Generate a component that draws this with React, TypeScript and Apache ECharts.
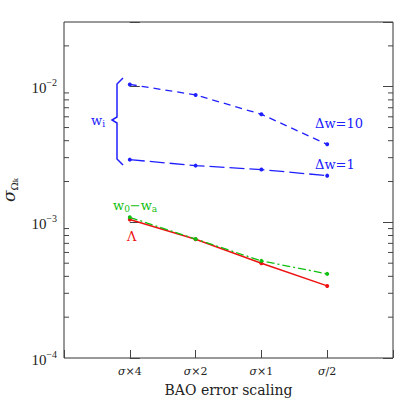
import React, { useEffect, useRef } from 'react';
import * as echarts from 'echarts';

const categories = ['σ×4', 'σ×2', 'σ×1', 'σ/2'];
const dw10 = [0.0104, 0.0087, 0.00626, 0.00376];
const dw1 = [0.0029, 0.00262, 0.00245, 0.00221];
const lambdaVals = [0.00105, 0.00075, 0.0005, 0.00034];
const w0waVals = [0.00109, 0.000753, 0.00052, 0.000417];
const yDecades = [1e-4, 1e-3, 1e-2];
const minorMantissas = [2, 3, 4, 5, 6, 7, 8, 9];

const BLUE = '#2020ff';
const RED = '#ee1111';
const GREEN = '#10c010';
const SERIF = 'DejaVu Serif';
const AXIS = '#444';

const Y_MIN = 1e-4;
const Y_MAX = 0.03;

export default function App() {
  const ref = useRef<HTMLDivElement>(null);
  useEffect(() => {
    if (!ref.current) return;
    const chart = echarts.init(ref.current, undefined, { renderer: 'svg' });
    const minorTicks: number[][] = [];
    yDecades.forEach((d) =>
      minorMantissas.forEach((m) => {
        const v = d * m;
        if (v < Y_MAX) minorTicks.push([-1, v]);
      })
    );
    const toPts = (arr: number[]) => arr.map((v, i) => [i, v]);
    const yLabelFmt = (v: number) => {
      const l = Math.log10(v);
      const e = Math.round(l);
      if (Math.abs(l - e) > 1e-6) return '';
      return `{b|10}{e|−${-e}}`;
    };
    const option: any = {
      animation: false,
      grid: {
        left: 64, right: 22, top: 22, bottom: 57,
        containLabel: false,
        outerBoundsMode: 'none',
        show: true, borderColor: '#333', borderWidth: 1, backgroundColor: 'transparent',
      },
      xAxis: {
        type: 'value',
        min: -1,
        max: 4,
        interval: 1,
        axisLine: { show: false },
        splitLine: { show: false },
        axisTick: { inside: true, length: 8, lineStyle: { color: AXIS } },
        axisLabel: {
          margin: 8,
          fontSize: 11,
          fontFamily: SERIF,
          color: '#222',
          formatter: (v: number) => {
            const i = Math.round(v);
            if (Math.abs(v - i) > 1e-6 || i < 0 || i >= categories.length) return '';
            return `{s|σ}${categories[i].slice(1)}`;
          },
          rich: { s: { fontStyle: 'italic', fontSize: 11, fontFamily: SERIF, color: '#222' } },
        },
        name: 'BAO error scaling',
        nameLocation: 'middle',
        nameGap: 25,
        nameTextStyle: { fontSize: 14, fontFamily: SERIF, color: '#222' },
      },
      yAxis: [
        {
          type: 'log',
          logBase: 10,
          min: Y_MIN,
          max: Y_MAX,
          axisLine: { show: false },
          splitLine: { show: false },
          axisTick: { inside: true, length: 10, lineStyle: { color: AXIS } },
          axisLabel: {
            margin: 7,
            formatter: yLabelFmt,
            rich: {
              b: { fontSize: 15, fontFamily: 'Liberation Serif', color: '#222', lineHeight: 18, verticalAlign: 'bottom' },
              e: { fontSize: 10, fontFamily: 'Liberation Serif', color: '#222', lineHeight: 10, verticalAlign: 'top' },
            },
          },
          name: '{s|σ}{o|Ω}{k|k}',
          nameLocation: 'middle',
          nameRotate: 90,
          nameGap: 45,
          nameTextStyle: {
            rich: {
              s: { fontSize: 17, fontFamily: SERIF, color: '#222', lineHeight: 20, fontStyle: 'italic' },
              o: { fontSize: 10, fontFamily: SERIF, color: '#222', lineHeight: 4, verticalAlign: 'bottom' },
              k: { fontSize: 7, fontFamily: SERIF, color: '#222', lineHeight: 1, verticalAlign: 'bottom' },
            },
          },
        },
        {
          type: 'log',
          logBase: 10,
          min: Y_MIN,
          max: Y_MAX,
          position: 'right',
          axisLine: { show: false },
          splitLine: { show: false },
          axisTick: { inside: true, length: 10, lineStyle: { color: AXIS } },
          axisLabel: { show: false },
        },
      ],
      series: [
        {
          type: 'custom',
          silent: true,
          yAxisIndex: 0,
          data: minorTicks,
          renderItem: (params: any, api: any) => {
            const v = api.value(1);
            const l = api.coord([-1, v]);
            const r = api.coord([4, v]);
            return {
              type: 'group',
              children: [
                { type: 'line', shape: { x1: l[0], y1: l[1], x2: l[0] + 5, y2: l[1] }, style: { stroke: AXIS, lineWidth: 1 } },
                { type: 'line', shape: { x1: r[0] - 5, y1: r[1], x2: r[0], y2: r[1] }, style: { stroke: AXIS, lineWidth: 1 } },
              ],
            };
          },
        },
        {
          name: 'Δw=10',
          type: 'line',
          data: toPts(dw10),
          symbol: 'circle',
          symbolSize: 4,
          itemStyle: { color: BLUE },
          lineStyle: { color: BLUE, width: 1.3, type: [7, 5] },
        },
        {
          name: 'Δw=1',
          type: 'line',
          data: toPts(dw1),
          symbol: 'circle',
          symbolSize: 4,
          itemStyle: { color: BLUE },
          lineStyle: { color: BLUE, width: 1.3, type: [15, 5] },
        },
        {
          name: 'Λ',
          type: 'line',
          data: toPts(lambdaVals),
          symbol: 'circle',
          symbolSize: 4,
          itemStyle: { color: RED },
          lineStyle: { color: RED, width: 1.5, type: 'solid' },
        },
        {
          name: 'w0-wa',
          type: 'line',
          data: toPts(w0waVals),
          symbol: 'circle',
          symbolSize: 4,
          itemStyle: { color: GREEN },
          lineStyle: { color: GREEN, width: 1.3, type: [8, 3, 2, 3] },
        },
      ],
      graphic: [
        {
          type: 'polyline',
          shape: { points: [[123, 78], [117, 84], [117, 117], [112, 120], [117, 123], [117, 159], [123, 165]] },
          style: { stroke: BLUE, lineWidth: 1.5, fill: 'none' },
        },
        {
          type: 'text',
          x: 91,
          y: 120,
          style: {
            text: '{w|w}{i|i}',
            verticalAlign: 'middle',
            rich: {
              w: { fontSize: 13, fontFamily: SERIF, fill: BLUE, lineHeight: 16 },
              i: { fontSize: 9, fontFamily: SERIF, fill: BLUE, lineHeight: 4, verticalAlign: 'bottom' },
            },
          },
        },
        {
          type: 'text',
          x: 315,
          y: 123,
          style: { text: 'Δw=10', fontSize: 13, fontFamily: SERIF, fill: BLUE, verticalAlign: 'middle' },
        },
        {
          type: 'text',
          x: 315,
          y: 164,
          style: { text: 'Δw=1', fontSize: 13, fontFamily: SERIF, fill: BLUE, verticalAlign: 'middle' },
        },
        {
          type: 'text',
          x: 113,
          y: 205,
          style: {
            text: '{w|w}{s|0}{w|−w}{s|a}',
            verticalAlign: 'middle',
            rich: {
              w: { fontSize: 13, fontFamily: SERIF, fill: GREEN, lineHeight: 16 },
              s: { fontSize: 9, fontFamily: SERIF, fill: GREEN, lineHeight: 4, verticalAlign: 'bottom' },
            },
          },
        },
        {
          type: 'text',
          x: 127,
          y: 236,
          style: { text: 'Λ', fontSize: 13, fontFamily: SERIF, fill: RED, verticalAlign: 'middle' },
        },
      ],
    };
    chart.setOption(option);
    return () => chart.dispose();
  }, []);
  return <div ref={ref} style={{ position: 'absolute', left: 0, top: 0, width: 415, height: 415 }} />;
}
